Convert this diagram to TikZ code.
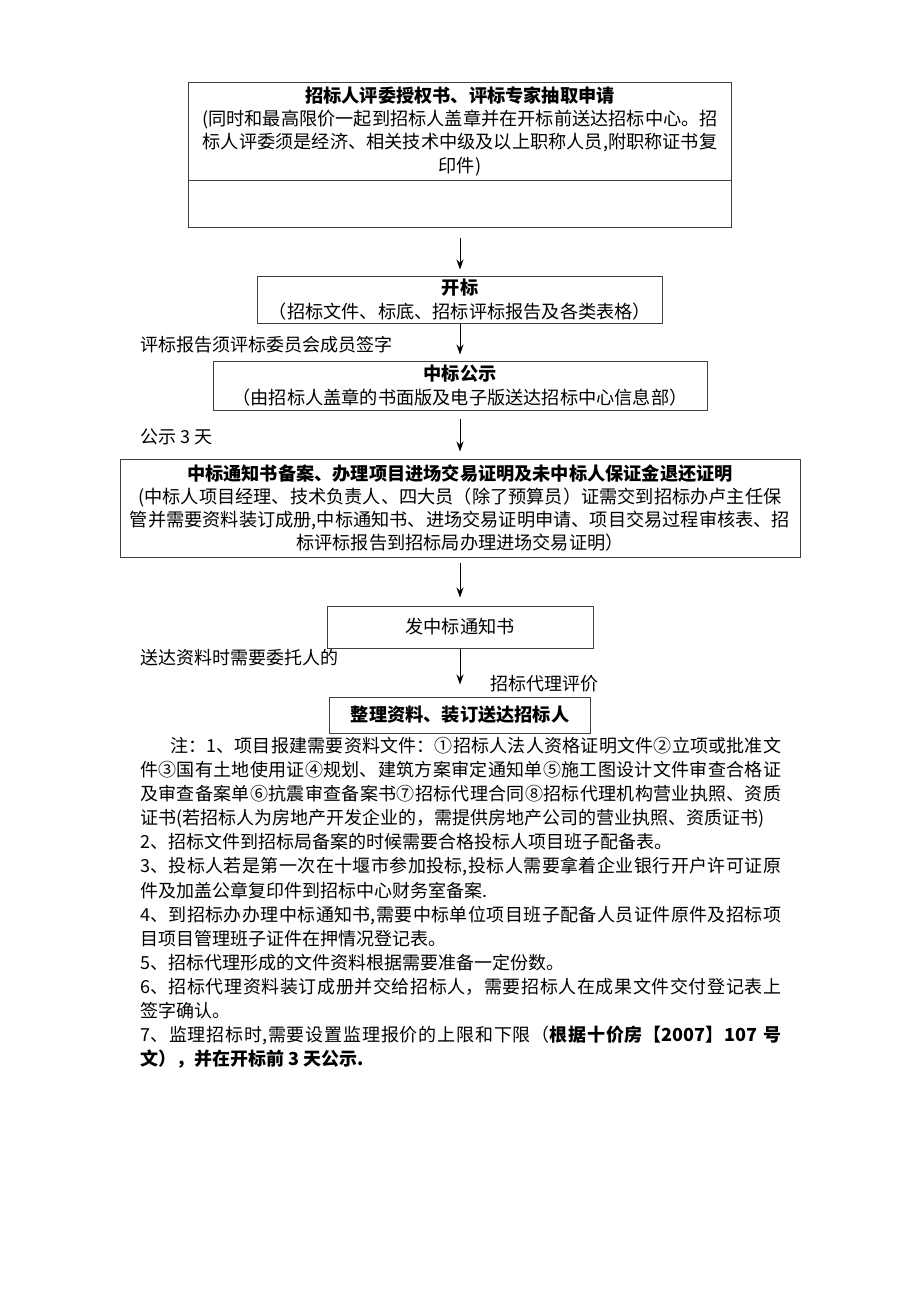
\documentclass[tikz,border=0pt]{standalone}
\usepackage{fontspec}
\setmainfont{Noto Sans CJK SC}
\usetikzlibrary{arrows.meta}
\XeTeXlinebreaklocale "zh"
\XeTeXlinebreakskip=0pt plus 1pt minus 0.1pt

\begin{document}
\begin{tikzpicture}[x=1pt, y=-1pt,
    box/.style={draw=black!75, line width=1pt, align=center, inner sep=2pt,
      font=\fontsize{18.2}{23.3}\selectfont},
    flow/.style={-{Stealth[length=10pt,width=7pt]}, line width=1pt},
    lbl/.style={anchor=west, inner sep=0pt, font=\fontsize{18}{23.3}\selectfont}]
  \useasboundingbox (0, 0) rectangle (920, 1302);
  % flow boxes
  \node (apply) at (460, 131) [box, minimum width=543pt, minimum height=98pt]
    {\textbf{招标人评委授权书、评标专家抽取申请}\\
     (同时和最高限价一起到招标人盖章并在开标前送达招标中心。招\\
     标人评委须是经济、相关技术中级及以上职称人员,附职称证书复\\
     印件)};
  \node (applyb) at (460, 203.5) [box, minimum width=543pt, minimum height=47pt] {};
  \node (open) at (460, 299.5) [box, minimum width=405pt, minimum height=47pt]
    {\textbf{开标}\\（招标文件、标底、招标评标报告及各类表格）};
  \node (notice) at (460, 385.5) [box, minimum width=494pt, minimum height=49pt]
    {\textbf{中标公示}\\（由招标人盖章的书面版及电子版送达招标中心信息部）};
  \node (filing) at (460, 508) [box, minimum width=680pt, minimum height=98pt]
    {\textbf{中标通知书备案、办理项目进场交易证明及未中标人保证金退还证明}\\
     (中标人项目经理、技术负责人、四大员（除了预算员）证需交到招标办卢主任保\\
     管并需要资料装订成册,中标通知书、进场交易证明申请、项目交易过程审核表、招\\
     标评标报告到招标局办理进场交易证明）};
  \node (issue) at (460, 627) [box, minimum width=266pt, minimum height=42pt] {发中标通知书};
  \node (deliver) at (460, 715) [box, minimum width=261pt, minimum height=36pt]
    {\textbf{整理资料、装订送达招标人}};
  % side labels
  \node (signlbl) at (140, 345) [lbl] {评标报告须评标委员会成员签字};
  \node (daylbl) at (140, 437) [lbl] {公示 3 天};
  \node (entrustlbl) at (140, 658) [lbl] {送达资料时需要委托人的};
  \node (evallbl) at (490, 684) [lbl] {招标代理评价};
  % arrows
  \draw[flow] ([yshift=-10pt]applyb.south) -- ([yshift=6pt]open.north);
  \draw[flow] (open.south) -- ([yshift=6pt]notice.north);
  \draw[flow] ([yshift=-8pt]notice.south) -- ([yshift=7pt]filing.north);
  \draw[flow] ([yshift=-5pt]filing.south) -- ([yshift=8pt]issue.north);
  \draw[flow] (issue.south) -- ([yshift=12pt]deliver.north);
  % notes
  \node (notes) at (140, 737) [anchor=north west, inner sep=0pt, text width=641pt,
      align=justify, font=\fontsize{18}{24.1}\selectfont]
    {\hspace*{30pt}注：1、项目报建需要资料文件：①招标人法人资格证明文件②立项或批准文\linebreak
     件③国有土地使用证④规划、建筑方案审定通知单⑤施工图设计文件审查合格证\linebreak
     及审查备案单⑥抗震审查备案书⑦招标代理合同⑧招标代理机构营业执照、资质\linebreak
     证书(若招标人为房地产开发企业的，需提供房地产公司的营业执照、资质证书)\par
     2、招标文件到招标局备案的时候需要合格投标人项目班子配备表。\par
     3、投标人若是第一次在十堰市参加投标,投标人需要拿着企业银行开户许可证原\linebreak
     件及加盖公章复印件到招标中心财务室备案.\par
     4、到招标办办理中标通知书,需要中标单位项目班子配备人员证件原件及招标项\linebreak
     目项目管理班子证件在押情况登记表。\par
     5、招标代理形成的文件资料根据需要准备一定份数。\par
     6、招标代理资料装订成册并交给招标人，需要招标人在成果文件交付登记表上\linebreak
     签字确认。\par
     7、监理招标时,需要设置监理报价的上限和下限（\textbf{根据十价房【2007】107 号\linebreak
     文），并在开标前 3 天公示.}};
\end{tikzpicture}
\end{document}
